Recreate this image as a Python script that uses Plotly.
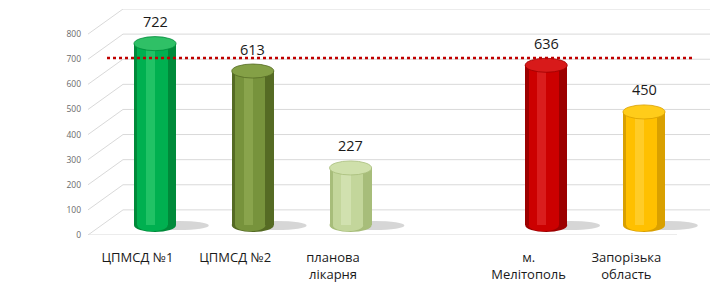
import plotly.graph_objects as go

categories = ["ЦПМСД №1", "ЦПМСД №2", "планова<br>лікарня", "м.<br>Мелітополь", "Запорізька<br>область"]
positions = [0, 1, 2, 4, 5]
values = [722, 613, 227, 636, 450]
reference_value = 705
y_ticks = [0, 100, 200, 300, 400, 500, 600, 700, 800]

# colour sets per bar: (edge/dark, body, highlight, top)
palettes = [
    ("#008a3a", "#00b050", "#3fd47a", "#2fc066"),
    ("#556b24", "#77933c", "#9bb65c", "#84a046"),
    ("#a7bd7a", "#c3d69b", "#e0ecc4", "#cfe0ab"),
    ("#9c0000", "#cc0000", "#e83a3a", "#d81a1a"),
    ("#d9a000", "#ffc000", "#ffd84d", "#ffcc1a"),
]

W, H = 720, 294
ML, MR, MT, MB = 88, 10, 9, 59
plot_w = W - ML - MR
first_px, step_px = 155, 97.8
x0_range = (ML - first_px) / step_px
x1_range = x0_range + plot_w / step_px
bar_w = 0.43
label_shift = -0.18

fig = go.Figure()

for p, v, pal in zip(positions, values, palettes):
    edge, body, hi, top = pal
    fig.add_trace(go.Bar(x=[p], y=[v], width=bar_w, marker=dict(color=edge, line=dict(width=0)),
                         yaxis="y2", hoverinfo="skip", showlegend=False))
    fig.add_trace(go.Bar(x=[p], y=[v], width=bar_w * 0.72, offset=-bar_w * 0.42,
                         marker=dict(color=body, line=dict(width=0)),
                         yaxis="y2", hoverinfo="skip", showlegend=False))
    fig.add_trace(go.Bar(x=[p], y=[v], width=bar_w * 0.22, offset=-bar_w * 0.22,
                         marker=dict(color=hi, line=dict(width=0), opacity=0.5),
                         yaxis="y2", hoverinfo="skip", showlegend=False))

shapes = []
grid_col = "#d9d9d9"
depth = (123 - ML) / plot_w
for v in y_ticks:
    shapes.append(dict(type="line", xref="paper", yref="y", x0=0, x1=depth, y0=v, y1=v + 100,
                       line=dict(color=grid_col, width=1), layer="below"))
    shapes.append(dict(type="line", xref="paper", yref="y", x0=depth, x1=1, y0=v + 100, y1=v + 100,
                       line=dict(color=grid_col, width=1), layer="below"))
shapes.append(dict(type="line", xref="paper", yref="y", x0=0, x1=(677 - ML) / plot_w, y0=0, y1=0,
                   line=dict(color=grid_col, width=1), layer="below"))

ry = 28  # ellipse half-height in value units
for p, v, pal in zip(positions, values, palettes):
    edge, body, hi, top = pal
    # floor shadow
    shapes.append(dict(type="circle", xref="x", yref="y2", x0=p - 0.05, x1=p + 0.55, y0=-20, y1=16,
                       fillcolor="rgba(120,120,120,0.30)", line=dict(width=0), layer="below"))
    # bottom rounding (only lower half shows below the bar)
    shapes.append(dict(type="circle", xref="x", yref="y2", x0=p - bar_w / 2, x1=p + bar_w / 2,
                       y0=-ry, y1=ry, fillcolor=edge, line=dict(width=0), layer="below"))
    shapes.append(dict(type="circle", xref="x", yref="y2", x0=p - bar_w * 0.42, x1=p + bar_w * 0.3,
                       y0=-ry * 0.9, y1=ry * 0.8, fillcolor=body, line=dict(width=0), layer="below"))
    # top ellipse
    shapes.append(dict(type="circle", xref="x", yref="y2", x0=p - bar_w / 2, x1=p + bar_w / 2,
                       y0=v - ry, y1=v + ry, fillcolor=top, line=dict(color=edge, width=0.8), layer="above"))

shapes.append(dict(type="line", xref="paper", yref="y", x0=(107 - ML) / plot_w, x1=(692 - ML) / plot_w,
                   y0=reference_value, y1=reference_value,
                   line=dict(color="#c00000", width=2.5, dash="dot"), layer="above"))

annotations = [dict(x=p, y=v, xref="x", yref="y2", text=str(v), showarrow=False, yshift=22,
                    font=dict(family="Open Sans", size=14.5, color="#1a1a1a"))
               for p, v in zip(positions, values)]

fig.update_layout(
    width=W, height=H,
    margin=dict(l=ML, r=MR, t=MT, b=MB),
    paper_bgcolor="white", plot_bgcolor="white",
    barmode="overlay", bargap=0,
    shapes=shapes, annotations=annotations,
    xaxis=dict(range=[x0_range, x1_range], tickmode="array",
               tickvals=[p + label_shift for p in positions], ticktext=categories,
               showgrid=False, zeroline=False, showline=False, ticks="",
               ticklabelstandoff=13,
               tickfont=dict(family="Open Sans", size=13, color="#1a1a1a")),
    yaxis=dict(range=[0, 900], tickmode="array", tickvals=y_ticks,
               showgrid=False, zeroline=False, showline=False, ticks="",
               ticklabelstandoff=6,
               tickfont=dict(family="Open Sans", size=8.5, color="#6a6a6a")),
    yaxis2=dict(range=[-40, 860], overlaying="y", visible=False, showgrid=False, zeroline=False),
)

fig.write_html("out.html")
